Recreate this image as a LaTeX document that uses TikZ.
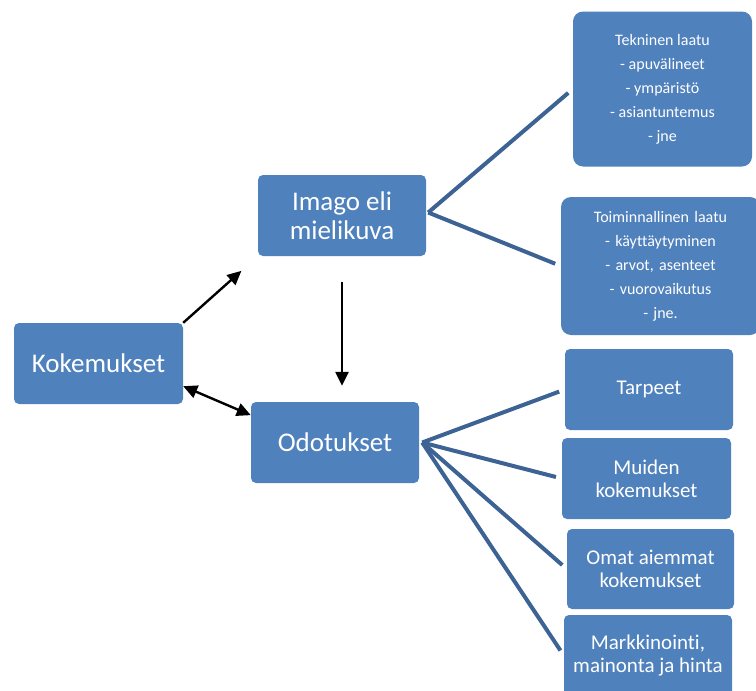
\documentclass[tikz,border=0pt]{standalone}
\usepackage{fontspec}
\setmainfont[Ligatures={NoCommon}]{Carlito}
\usepackage{tikz}
\usetikzlibrary{arrows.meta,calc}
\definecolor{boxblue}{RGB}{79,129,189}
\definecolor{fanblue}{RGB}{60,99,148}

\begin{document}
\begin{tikzpicture}[x=1pt,y=-1pt,
    box/.style={fill=boxblue,text=white,rounded corners=5pt,align=center,
      inner sep=0pt,minimum width=168pt,minimum height=81pt},
    bigtxt/.style={font=\fontsize{27}{29}\selectfont},
    midtxt/.style={font=\fontsize{21}{23}\selectfont},
    smalltxt/.style={font=\fontsize{16}{24}\selectfont,rounded corners=10pt},
    fan/.style={draw=fanblue,line width=4pt,shorten >=6pt},
    arr/.style={draw=black,line width=2.4pt,>={Triangle[length=14pt,width=13pt]}}]
    \clip (0,0) rectangle (756,691);
    \useasboundingbox (0,0) rectangle (756,691);
    % left part
    \node[box,bigtxt,minimum width=169pt] (Kok) at (98.5,363.5) {Kokemukset};
    \node[box,bigtxt] (Ima) at (342,215.5) {Imago eli\\mielikuva};
    \node[box,bigtxt] (Odo) at (335,442.5) {Odotukset};
    % right part
    \node[box,smalltxt,minimum width=179pt,minimum height=155pt] (Tek) at (662.5,89)
      {Tekninen laatu\\- apuvälineet\\- ympäristö\\- asiantuntemus\\- jne};
    \node[box,smalltxt,minimum width=199pt,minimum height=138pt,text width=190pt] (Toi) at (660.5,266)
      {Toiminnallinen laatu\\- käyttäytyminen\\- arvot, asenteet\\- vuorovaikutus\\- jne.};
    \node[box,midtxt] (Tar) at (649,389.5) {Tarpeet};
    \node[box,midtxt,minimum width=169pt] (Mui) at (646.5,478.5) {Muiden\\kokemukset};
    \node[box,midtxt,minimum width=167pt,minimum height=80pt] (Oma) at (650.5,569) {Omat aiemmat\\kokemukset};
    \node[box,midtxt] (Mar) at (648,655.5) {Markkinointi,\\mainonta ja hinta};
    \coordinate (ImaHub) at ($(Ima.east)+(2,-3)$);
    \coordinate (OdoHub) at ($(Odo.east)+(3,0)$);
    % fans
    \path[fan]
      (ImaHub) edge (Tek.west)
      (ImaHub) edge (Toi.west)
      (OdoHub) edge (Tar.west)
      (OdoHub) edge (Mui.west)
      (OdoHub) edge (Oma.west)
      (OdoHub) edge (Mar.west);
    % arrows
    \path[arr]
      (Kok.north east) edge[->,shorten >=22pt] (Ima.south west)
      (Ima.south) edge[->,shorten <=26pt,shorten >=16pt] (Ima.south |- Odo.north)
      (Kok.-15.5) edge[<->] (Odo.162.5);
  \end{tikzpicture}
\end{document}
